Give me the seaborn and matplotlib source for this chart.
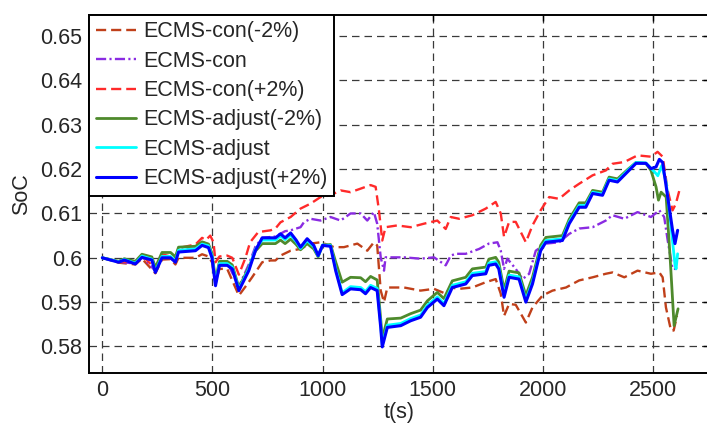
import matplotlib
matplotlib.use("Agg")
import matplotlib.pyplot as plt
import seaborn as sns
import pandas as pd

# ---- data: SoC trajectories (t in s) ----
t_con_m2 = [0, 74, 150, 180, 241, 271, 310, 332, 346, 423, 453, 482, 498, 514, 532, 567, 620, 650, 680, 726,
            764, 786, 809, 855, 900, 945, 991, 1052, 1097, 1158, 1203, 1233, 1248, 1264, 1279, 1294, 1370, 1445,
            1506, 1559, 1582, 1620, 1680, 1741, 1786, 1809, 1824, 1847, 1877, 1923, 1953, 1999, 2044, 2105, 2165,
            2226, 2286, 2316, 2370, 2430, 2491, 2529, 2544, 2559, 2582, 2594, 2609]
soc_con_m2 = [.6000, .5989, .5985, .5998, .5965, .5996, .5997, .5985, .6000, .6000, .6008, .6003, .5990, .5945,
              .5975, .5975, .5915, .5935, .5956, .5990, .5994, .5994, .6005, .6016, .6020, .6032, .6035, .6024,
              .6024, .6032, .6016, .6035, .6028, .5926, .5900, .5933, .5933, .5926, .5930, .5919, .5933, .5930,
              .5933, .5945, .5952, .5919, .5869, .5896, .5894, .5854, .5888, .5915, .5926, .5933, .5949, .5956,
              .5964, .5967, .5956, .5971, .5964, .5967, .5956, .5888, .5836, .5836, .5869]

t_con = [0, 74, 150, 180, 241, 271, 332, 346, 423, 453, 482, 498, 514, 532, 567, 620, 665, 695, 726, 786, 830,
         855, 900, 915, 945, 991, 1036, 1082, 1127, 1173, 1203, 1233, 1248, 1264, 1279, 1286, 1370, 1445, 1506,
         1559, 1582, 1605, 1650, 1711, 1755, 1794, 1809, 1824, 1839, 1877, 1908, 1938, 1968, 2014, 2074, 2120,
         2165, 2226, 2286, 2316, 2370, 2430, 2491, 2529, 2551, 2567, 2589, 2605]
soc_con = [.6000, .5991, .5987, .6004, .5970, .6004, .5994, .6017, .6022, .6036, .6030, .6005, .5945, .5988,
           .5990, .5935, .5985, .6025, .6045, .6048, .6060, .6062, .6069, .6080, .6088, .6084, .6092, .6084,
           .6100, .6100, .6084, .6103, .6077, .6001, .5971, .6001, .6001, .5998, .6001, .5983, .6005, .6009,
           .6009, .6020, .6032, .6035, .6016, .5975, .5998, .5975, .5952, .5964, .6016, .6032, .6035, .6054,
           .6066, .6069, .6084, .6096, .6088, .6103, .6092, .6107, .6092, .6039, .5975, .5975]

t_con_p2 = [0, 74, 150, 180, 241, 271, 332, 346, 423, 453, 470, 490, 505, 514, 532, 567, 590, 620, 650, 671,
            708, 764, 786, 809, 855, 900, 945, 991, 1036, 1082, 1127, 1173, 1218, 1241, 1256, 1271, 1286, 1339,
            1400, 1461, 1521, 1559, 1582, 1620, 1680, 1741, 1786, 1809, 1824, 1847, 1877, 1923, 1953, 1990, 2029,
            2074, 2120, 2165, 2226, 2286, 2316, 2370, 2430, 2491, 2521, 2544, 2567, 2589, 2604, 2620]
soc_con_p2 = [.6000, .5992, .5990, .6006, .5975, .6008, .6000, .6022, .6030, .6045, .6040, .6050, .6035, .5990,
              .6003, .6005, .6000, .5962, .6000, .6035, .6058, .6062, .6066, .6080, .6092, .6111, .6122, .6137,
              .6141, .6152, .6148, .6156, .6164, .6160, .6107, .6039, .6069, .6073, .6069, .6077, .6084, .6065,
              .6092, .6088, .6096, .6111, .6126, .6100, .6047, .6081, .6081, .6035, .6073, .6107, .6137, .6133,
              .6152, .6167, .6186, .6197, .6212, .6216, .6231, .6228, .6239, .6228, .6152, .6107, .6122, .6152]

t_adj_m2 = [0, 74, 100, 150, 180, 225, 241, 271, 310, 332, 346, 423, 453, 482, 498, 514, 532, 567, 590, 620,
            665, 695, 726, 786, 809, 830, 855, 880, 900, 930, 960, 980, 1000, 1036, 1060, 1089, 1127, 1173, 1195,
            1218, 1248, 1264, 1271, 1294, 1355, 1400, 1445, 1476, 1521, 1551, 1589, 1650, 1680, 1741, 1755, 1786,
            1800, 1824, 1847, 1892, 1923, 1953, 1990, 2014, 2089, 2120, 2165, 2195, 2226, 2271, 2301, 2339, 2385,
            2423, 2468, 2491, 2514, 2525, 2537, 2560, 2578, 2596, 2614]
soc_adj_m2 = [.6000, .5992, .5998, .5992, .6008, .6002, .5978, .6012, .6012, .6002, .6024, .6026, .6036, .6031,
              .6010, .5950, .5992, .5992, .5984, .5933, .5978, .6015, .6032, .6032, .6040, .6032, .6042, .6030,
              .6018, .6032, .6020, .6002, .6028, .6030, .5990, .5945, .5956, .5955, .5946, .5958, .5950, .5862,
              .5818, .5862, .5864, .5874, .5882, .5903, .5922, .5908, .5948, .5956, .5975, .5979, .5997, .6001,
              .5990, .5928, .5970, .5966, .5915, .5956, .6028, .6046, .6050, .6087, .6124, .6124, .6152, .6148,
              .6182, .6178, .6199, .6215, .6213, .6197, .6160, .6130, .6148, .6137, .6000, .5847, .5885]

t_adj = [0, 74, 100, 150, 180, 225, 241, 271, 310, 332, 346, 423, 453, 482, 498, 514, 532, 567, 590, 620, 665,
         695, 726, 786, 809, 830, 855, 880, 900, 930, 960, 980, 1000, 1036, 1060, 1089, 1127, 1173, 1195, 1218,
         1248, 1264, 1271, 1294, 1355, 1400, 1445, 1476, 1521, 1551, 1589, 1650, 1680, 1741, 1755, 1786, 1800,
         1824, 1847, 1892, 1923, 1953, 1990, 2014, 2089, 2120, 2165, 2195, 2226, 2271, 2301, 2339, 2385, 2423,
         2468, 2491, 2514, 2522, 2540, 2560, 2580, 2600, 2605, 2612]
soc_adj = [.6000, .5991, .5996, .5988, .6004, .5997, .5970, .6003, .6003, .5993, .6017, .6020, .6031, .6027,
           .6004, .5942, .5987, .5987, .5979, .5929, .5975, .6019, .6040, .6040, .6049, .6041, .6051, .6037,
           .6021, .6039, .6025, .6004, .6029, .6028, .5975, .5921, .5935, .5933, .5924, .5938, .5931, .5848,
           .5804, .5848, .5852, .5863, .5871, .5893, .5912, .5897, .5938, .5946, .5965, .5969, .5988, .5991,
           .5980, .5917, .5961, .5957, .5905, .5946, .6020, .6039, .6043, .6081, .6118, .6118, .6148, .6144,
           .6178, .6174, .6197, .6215, .6214, .6202, .6190, .6185, .6208, .6170, .6080, .5985, .5975, .6009]

t_adj_p2 = [0, 74, 100, 150, 180, 225, 241, 271, 310, 332, 346, 423, 453, 482, 498, 514, 532, 567, 590, 620,
            665, 695, 726, 786, 809, 830, 855, 880, 900, 930, 960, 980, 1000, 1036, 1060, 1089, 1127, 1173, 1195,
            1218, 1248, 1264, 1271, 1294, 1355, 1400, 1445, 1476, 1521, 1551, 1589, 1650, 1680, 1741, 1755, 1786,
            1800, 1824, 1847, 1892, 1923, 1953, 1990, 2014, 2089, 2120, 2165, 2195, 2226, 2271, 2301, 2339, 2385,
            2423, 2468, 2491, 2514, 2529, 2544, 2567, 2589, 2600, 2612]
soc_adj_p2 = [.6000, .5990, .5995, .5986, .6001, .5995, .5967, .6000, .6000, .5990, .6013, .6016, .6028, .6023,
              .6000, .5937, .5983, .5983, .5975, .5926, .5971, .6016, .6045, .6045, .6054, .6045, .6056, .6040,
              .6024, .6043, .6028, .6005, .6028, .6026, .5970, .5917, .5930, .5928, .5919, .5933, .5926, .5843,
              .5799, .5843, .5847, .5858, .5866, .5888, .5907, .5892, .5933, .5941, .5960, .5964, .5983, .5986,
              .5975, .5911, .5956, .5952, .5900, .5941, .6016, .6035, .6039, .6077, .6114, .6114, .6145, .6141,
              .6175, .6171, .6194, .6213, .6213, .6201, .6205, .6222, .6215, .6137, .6062, .6032, .6062]

series_names = ["ECMS-con(-2%)", "ECMS-con", "ECMS-con(+2%)",
                "ECMS-adjust(-2%)", "ECMS-adjust", "ECMS-adjust(+2%)"]
x_ticks = [0, 500, 1000, 1500, 2000, 2500]
y_ticks = [0.58, 0.59, 0.60, 0.61, 0.62, 0.63, 0.64, 0.65]
y_tick_labels = ["0.58", "0.59", "0.6", "0.61", "0.62", "0.63", "0.64", "0.65"]

sns.set_style("white")
plt.rcParams["font.family"] = ["Liberation Sans", "DejaVu Sans"]

fig = plt.figure(figsize=(7.07, 4.23), dpi=100)
ax = fig.add_axes([0.126, 0.118, 0.877, 0.847])

styles = [
    dict(color="#C0401A", lw=1.7, dashes=(4.3, 2.1)),
    dict(color="#8A2BE2", lw=1.7, dashes=(4.3, 1.4, 0.9, 1.4)),
    dict(color="#FF2A2A", lw=1.7, dashes=(4.3, 2.1)),
    dict(color="#4E8A2C", lw=2.0, dashes=None),
    dict(color="#00FFFF", lw=2.0, dashes=None),
    dict(color="#0000FF", lw=2.2, dashes=None),
]
tracks = [(t_con_m2, soc_con_m2), (t_con, soc_con), (t_con_p2, soc_con_p2),
          (t_adj_m2, soc_adj_m2), (t_adj, soc_adj), (t_adj_p2, soc_adj_p2)]

for name, (tt, ss), st in zip(series_names, tracks, styles):
    df = pd.DataFrame({"t": tt, "SoC": ss})
    sns.lineplot(data=df, x="t", y="SoC", ax=ax, color=st["color"], lw=st["lw"],
                 label=name, estimator=None, sort=False, legend=False)
    line = ax.lines[-1]
    if st["dashes"] is not None:
        line.set_dashes(st["dashes"])
    line.set_solid_joinstyle("round")

ax.set_xlim(-60, 2755)
ax.set_ylim(0.574, 0.6548)
ax.set_xticks(x_ticks)
ax.set_xticklabels([str(v) for v in x_ticks])
ax.set_yticks(y_ticks)
ax.set_yticklabels(y_tick_labels)
ax.set_xlabel("t(s)", fontsize=15.5, labelpad=1)
ax.set_ylabel("SoC", fontsize=15.5, labelpad=6)

ax.grid(True, color="#3a3a3a", lw=0.9, dashes=(6.0, 4.0))
ax.tick_params(axis="both", labelsize=15.5, direction="in", length=4, width=1,
               top=True, right=True, pad=5, color="black")
for sp in ax.spines.values():
    sp.set_color("black")
    sp.set_linewidth(1.4)

handles = ax.lines[:6]
leg = ax.legend(handles, series_names, loc="upper left", bbox_to_anchor=(0, 1),
                borderaxespad=0, fontsize=15.5, frameon=True, fancybox=False,
                edgecolor="black", framealpha=1, handlelength=1.9,
                handletextpad=0.3, labelspacing=0.39, borderpad=0.3)
leg.get_frame().set_linewidth(1.4)

fig.savefig("out.png", dpi=100)
